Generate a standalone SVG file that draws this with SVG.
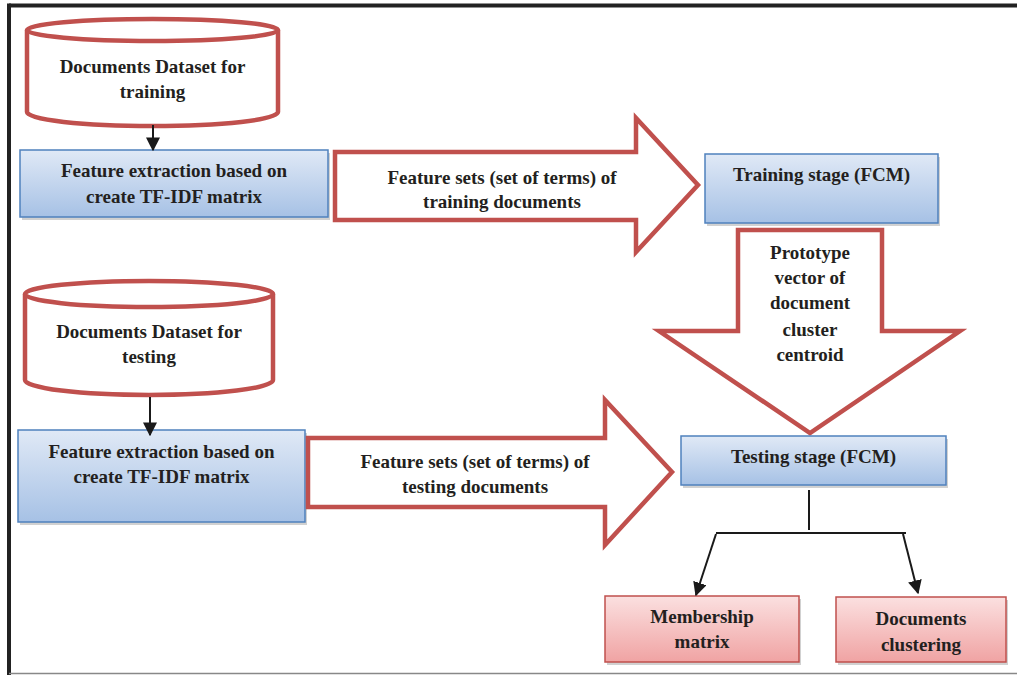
<svg xmlns="http://www.w3.org/2000/svg" width="1017" height="675" viewBox="0 0 1017 675">
<style>
  .t { font-family: "Liberation Serif", "Times New Roman", serif; font-weight: bold; font-size: 19px; fill: #231f20; text-anchor: middle; }
  .red { fill: #ffffff; stroke: #c0504d; stroke-width: 4.5; stroke-linejoin: miter; }
  .blue { fill: url(#gBlue); stroke: #4f81bd; stroke-width: 1.5; }
  .pink { fill: url(#gPink); stroke: #c0504d; stroke-width: 1.5; }
  .shadow { fill: #9a9a9a; opacity: 0.45; }
  .conn { stroke: #1a1a1a; stroke-width: 2; fill: none; }
</style>
<defs>
  <linearGradient id="gBlue" x1="0" y1="0" x2="0" y2="1">
    <stop offset="0" stop-color="#e0e9f6"/>
    <stop offset="1" stop-color="#a6c1e5"/>
  </linearGradient>
  <linearGradient id="gPink" x1="0" y1="0" x2="0" y2="1">
    <stop offset="0" stop-color="#fbe0e0"/>
    <stop offset="1" stop-color="#f0a3a3"/>
  </linearGradient>
  <marker id="ah" viewBox="0 0 10 10" refX="9" refY="5" markerWidth="7" markerHeight="7" orient="auto" markerUnits="strokeWidth">
    <path d="M0,0 L10,5 L0,10 Z" fill="#1a1a1a"/>
  </marker>
</defs>

<rect x="0" y="0" width="1017" height="675" fill="#ffffff"/>
<g id="frame">
  <line x1="9" y1="5.5" x2="1017" y2="5.5" stroke="#222" stroke-width="4"/>
  <line x1="9" y1="3.5" x2="9" y2="675" stroke="#222" stroke-width="4"/>
  <line x1="9" y1="673.5" x2="1017" y2="673.5" stroke="#888" stroke-width="1.5"/>
</g>

<g id="cyl-train">
  <path class="red" d="M27,30 L27,112 A125.5,14 0 0 0 278,112 L278,30"/>
  <ellipse class="red" cx="152.5" cy="30" rx="125.5" ry="11"/>
  <text class="t" x="152.5" y="73">Documents Dataset for</text>
  <text class="t" x="152.5" y="98">training</text>
</g>

<g id="fe-train">
  <rect class="shadow" x="22" y="153" width="308" height="67"/>
  <rect class="blue" x="20" y="150" width="308" height="67"/>
  <text class="t" x="174" y="177">Feature extraction based on</text>
  <text class="t" x="174" y="203">create TF-IDF matrix</text>
</g>

<g id="arrow-train">
  <path class="red" d="M335,152 L636,152 L636,118 L698,185 L636,252 L636,220 L335,220 Z"/>
  <text class="t" x="502" y="184">Feature sets (set of terms) of</text>
  <text class="t" x="502" y="208">training documents</text>
</g>

<g id="training-stage">
  <rect class="shadow" x="707" y="157" width="233" height="69"/>
  <rect class="blue" x="705" y="154" width="233" height="69"/>
  <text class="t" x="821.5" y="181">Training stage (FCM)</text>
</g>

<g id="arrow-proto">
  <path class="red" d="M738,230 L882,230 L882,331 L960,331 L810,433 L659,331 L738,331 Z"/>
  <text class="t" x="810" y="259">Prototype</text>
  <text class="t" x="810" y="284">vector of</text>
  <text class="t" x="810" y="309">document</text>
  <text class="t" x="810" y="336">cluster</text>
  <text class="t" x="810" y="361">centroid</text>
</g>

<g id="cyl-test">
  <path class="red" d="M25,294 L25,380 A124,15 0 0 0 273,380 L273,294"/>
  <ellipse class="red" cx="149" cy="294" rx="124" ry="13"/>
  <text class="t" x="149" y="338">Documents Dataset for</text>
  <text class="t" x="149" y="363">testing</text>
</g>

<g id="fe-test">
  <rect class="shadow" x="20" y="433" width="287" height="92"/>
  <rect class="blue" x="18" y="430" width="287" height="92"/>
  <text class="t" x="161.5" y="458">Feature extraction based on</text>
  <text class="t" x="161.5" y="483">create TF-IDF matrix</text>
</g>

<g id="arrow-test">
  <path class="red" d="M308,438 L605,438 L605,400 L672,472 L605,545 L605,507 L308,507 Z"/>
  <text class="t" x="475" y="468">Feature sets (set of terms) of</text>
  <text class="t" x="475" y="493">testing documents</text>
</g>

<g id="testing-stage">
  <rect class="shadow" x="683" y="439" width="265" height="49"/>
  <rect class="blue" x="681" y="436" width="265" height="49"/>
  <text class="t" x="813.5" y="463">Testing stage (FCM)</text>
</g>

<g id="membership">
  <rect class="shadow" x="607" y="599" width="194" height="66"/>
  <rect class="pink" x="605" y="596" width="194" height="66"/>
  <text class="t" x="702" y="623">Membership</text>
  <text class="t" x="702" y="648">matrix</text>
</g>

<g id="doc-clustering">
  <rect class="shadow" x="838" y="600" width="170" height="65"/>
  <rect class="pink" x="836" y="597" width="170" height="65"/>
  <text class="t" x="921" y="625">Documents</text>
  <text class="t" x="921" y="651">clustering</text>
</g>

<g id="connectors">
  <line class="conn" x1="153" y1="125" x2="153" y2="150" marker-end="url(#ah)"/>
  <line class="conn" x1="150" y1="397" x2="150" y2="435" marker-end="url(#ah)"/>
  <line class="conn" x1="809" y1="490" x2="809" y2="530"/>
  <line class="conn" x1="716" y1="533" x2="906" y2="533"/>
  <line class="conn" x1="716" y1="534" x2="696" y2="595" marker-end="url(#ah)"/>
  <line class="conn" x1="903" y1="534" x2="918" y2="593" marker-end="url(#ah)"/>
</g>
</svg>
